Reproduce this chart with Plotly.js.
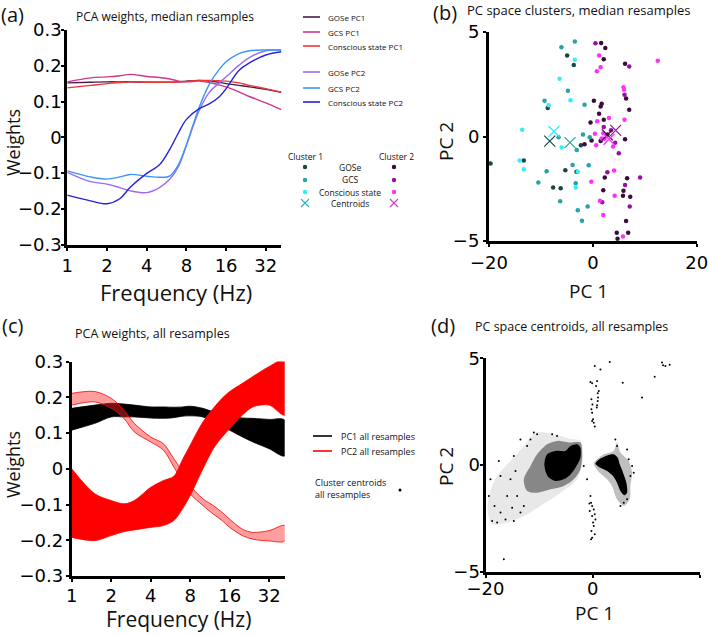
<!DOCTYPE html>
<html><head><meta charset="utf-8">
<script src="https://cdn.plot.ly/plotly-3.0.1.min.js"></script>
<style>html,body{margin:0;padding:0;background:#fff}#plot{width:709px;height:635px}</style>
</head><body><div id="plot"></div>
<script>
// ---------- Panel (a): PCA weights, median resamples ----------
const freqA = [1,1.5,2,2.5,3,4,5,6,7,8,10,12,14,16,20,24,32,42];
const goseP1 = [0.152,0.154,0.155,0.155,0.155,0.154,0.154,0.154,0.155,0.157,0.159,0.157,0.154,0.150,0.145,0.141,0.134,0.126];
const gcsP1  = [0.155,0.166,0.169,0.172,0.176,0.170,0.167,0.163,0.157,0.155,0.157,0.153,0.147,0.141,0.127,0.114,0.096,0.077];
const csP1   = [0.138,0.145,0.150,0.153,0.155,0.154,0.154,0.154,0.155,0.156,0.159,0.159,0.158,0.157,0.152,0.145,0.136,0.126];
const goseP2 = [-0.098,-0.124,-0.131,-0.141,-0.150,-0.155,-0.141,-0.117,-0.080,-0.023,0.075,0.127,0.150,0.169,0.201,0.223,0.242,0.244];
const gcsP2  = [-0.094,-0.111,-0.117,-0.111,-0.104,-0.109,-0.112,-0.108,-0.075,-0.021,0.084,0.150,0.187,0.211,0.234,0.242,0.244,0.244];
const csP2   = [-0.162,-0.178,-0.186,-0.172,-0.140,-0.101,-0.077,-0.033,0.014,0.050,0.080,0.094,0.111,0.136,0.187,0.208,0.230,0.239];
const legendA = ['GOSe PC1','GCS PC1','Conscious state PC1','GOSe PC2','GCS PC2','Conscious state PC2'];
const colorsA = ['#4a1b4a','#d0368e','#f03535','#9a6cf5','#3a96f5','#2424d8'];

// ---------- Panel (c): PCA weights, all resamples (band envelopes) ----------
const freqC = [1,1.5,2,2.5,3,4,5,6,7,8,10,12,14,16,20,24,32,42];
const pc1Upper = [0.169,0.178,0.183,0.181,0.178,0.173,0.173,0.172,0.173,0.175,0.169,0.159,0.154,0.148,0.142,0.141,0.138,0.136];
const pc1Lower = [0.108,0.127,0.145,0.145,0.145,0.142,0.141,0.143,0.147,0.148,0.145,0.131,0.120,0.108,0.089,0.075,0.056,0.036];
const pc2Upper = [0.000,-0.070,-0.089,-0.098,-0.089,-0.052,-0.033,-0.021,0.026,0.066,0.131,0.169,0.197,0.216,0.239,0.258,0.286,0.305];
const pc2Lower = [-0.192,-0.201,-0.187,-0.176,-0.171,-0.164,-0.159,-0.145,-0.112,-0.075,0.000,0.056,0.089,0.112,0.150,0.173,0.178,0.150];
const pc2AltUpper = [0.211,0.216,0.197,0.164,0.127,0.089,0.070,0.028,-0.009,-0.047,-0.084,-0.103,-0.122,-0.141,-0.169,-0.178,-0.173,-0.159];
const pc2AltLower = [0.178,0.187,0.169,0.141,0.103,0.075,0.052,0.005,-0.037,-0.070,-0.103,-0.127,-0.145,-0.164,-0.187,-0.197,-0.202,-0.202];

const freqTicks = [1,2,4,8,16,32];
const freqTickText = ['1','2','4','8','16','32'];
const weightTicks = [-0.3,-0.2,-0.1,0,0.1,0.2,0.3];
const weightTickText = ['\u22120.3','\u22120.2','\u22120.1','0','0.1','0.2','0.3'];
const pcXTicks = [-20,0,20];
const pcXTickText = ['\u221220','0','20'];
const pcYTicks = [-5,0,5];
const pcYTickText = ['\u22125','0','5'];

// ---------- Panel (b): PC space clusters, median resamples ----------
const c1GoseX = [-4.95,-3.67,-8.7,-13.3,-5.3,-3.15,-7.65,-6.2,-2.3,-19.7];
const c1GoseY = [3.88,3.42,1.36,-1.15,-1.61,-1.69,-2.44,-2.48,-0.42,-1.29];
const c1GcsX = [-3.47,-6.05,-9.3,-4.8,-1.6,-6.6,-1.9,-0.6,-3.1,-3.9,-0.8,-8.9,-10.5,-3.3,-6.3,-2.9,-1.0,-2.1];
const c1GcsY = [4.55,4.27,1.71,2.19,1.52,-0.03,0.1,-0.03,-0.64,-1.36,-1.37,-1.66,-2.2,-2.24,-3.1,-3.53,-3.35,-4.03];
const c1CsX = [-3.47,-6.4,-4.3,-8.5,-13.6,-6.0,-14.1,-13.3,-2.9,-3.3];
const c1CsY = [3.67,2.76,1.73,1.49,0.32,-0.53,-1.15,-1.57,-1.69,-2.44];
const c2GoseX = [0.2,-0.45,1.5,1.7,1.2,2.1,2.4,2.1,6.2,6.4,7.0,2.8,1.5,6.2,-0.25,-1.6,2.0,2.3,5.9,5.8,6.6,7.2,6.4,6.8,4.6,4.75,1.6];
const c2GoseY = [1.71,0.67,1.44,1.57,1.09,0.8,4.23,3.7,3.48,1.82,1.28,0.1,-0.21,-0.13,-0.19,-0.37,-2.57,-1.96,-2.59,-2.84,-2.0,-2.88,-4.04,-4.6,-4.6,-4.89,4.47];
const c2GcsX = [0.5,7.0,2.1,3.5,5.0,6.2,9.1,7.1,1.8,2.8,6.1,4.3];
const c2GcsY = [4.46,3.35,0.46,0.3,-0.8,-2.32,-1.96,-3.35,-3.15,-1.71,2.0,-0.3];
const c2CsX = [12.5,0.77,1.5,1.2,5.9,6.0,6.1,0.84,0.4,2.0,2.25,3.1,0.64,1.7,3.9,-0.3,4.1,4.2,1.35,2.0,5.8];
const c2CsY = [3.63,3.12,3.31,3.87,2.36,2.24,0.8,0.73,0.13,0.16,-0.11,0.88,-0.42,-0.1,-0.48,-2.16,-1.63,-2.83,-3.08,-3.75,-4.79];
const cent1X = [-8.3,-4.4,-7.5];   // GOSe, GCS, Conscious state
const cent1Y = [-0.22,-0.29,0.24];
const cent2X = [2.8,4.4,3.1];
const cent2Y = [0.08,0.29,-0.13];
const colC1 = ['#164848','#27a3a3','#35ecfa'];
const colC2 = ['#3c0c3c','#960fa6','#ff30ff'];

// ---------- Panel (d): PC space centroids, all resamples ----------
const blob1HaloX = [-19.38,-17.83,-15.34,-12.86,-10.68,-7.58,-4.16,-2.30,-1.80,-2.92,-6.02,-9.75,-12.86,-15.96,-18.76,-19.57,-19.38];
const blob1HaloY = [-1.45,-0.52,0.19,0.89,1.52,1.47,1.23,1.13,0.42,-0.67,-1.30,-1.92,-2.39,-2.70,-2.78,-2.23,-1.45];
const blob1MidX = [-12.86,-11.61,-10.37,-8.51,-6.65,-4.47,-2.30,-1.99,-2.30,-3.54,-5.40,-7.89,-10.37,-12.24,-12.86];
const blob1MidY = [-0.67,-0.05,0.5,0.97,1.13,1.05,1.05,0.5,-0.2,-0.67,-0.98,-1.14,-1.30,-1.22,-0.67];
const blob1CoreX = [-8.51,-6.96,-5.09,-4.16,-2.92,-2.30,-2.30,-3.23,-4.16,-5.40,-6.96,-8.20,-8.82,-9.01,-8.51];
const blob1CoreY = [0.5,0.66,0.66,0.89,0.97,0.81,0.34,-0.13,-0.44,-0.67,-0.75,-0.59,-0.28,0.11,0.5];
const blob2HaloX = [0.19,2.05,3.91,4.53,5.16,6.71,7.33,7.02,6.89,5.78,4.53,3.60,2.67,0.81,0.19];
const blob2HaloY = [0.08,0.5,0.66,1.05,0.58,0.19,-0.36,-0.98,-1.61,-1.92,-1.61,-0.98,-0.67,-0.23,0.08];
const blob2CoreX = [0.50,1.43,2.67,3.91,4.66,5.03,5.65,6.27,6.40,5.90,5.16,4.53,3.79,2.67,1.43,0.50];
const blob2CoreY = [0.06,0.30,0.45,0.50,0.34,0.03,-0.36,-0.83,-1.30,-1.42,-1.22,-0.83,-0.52,-0.28,-0.13,0.06];
const sparseX = [0.37,3.17,1.43,-0.43,-0.12,0.81,0.62,1.12,0.93,-0.25,0.93,-0.06,0.81,-0.25,0.75,-0.12,0.06,0.19,0.37,-0.12,0.99,
  12.92,13.54,14.35,13.11,11.55,9.19,5.59,
  -0.43,-0.31,-0.12,0.19,-0.56,0.37,-0.12,0.50,0.06,0.19,-0.25,-0.12,-0.31,0.37,-0.62,
  -17.52,-19.07,-18.32,-19.38,-17.20,-16.58,-18.76,-16.27,-14.72,-13.48,-12.24,-10.99,-14.72,-15.34,-15.96,-14.10,-12.86,-13.48,-11.61,-10.37,-7.58,-6.65,-17.20,-14.41,-15.03,-17.83,
  4.22,4.53,6.40,6.71,7.33,7.64,7.02,5.16,5.78,6.40,-1.06,-1.68];
const sparseY = [4.64,4.83,4.48,3.89,3.83,3.94,3.70,3.47,3.36,3.08,3.00,2.84,2.80,2.61,2.69,2.45,2.14,1.98,1.80,2.06,3.16,
  4.80,4.64,4.70,4.67,4.13,3.16,3.86,
  -1.45,-1.77,-1.92,-2.08,-2.16,-2.31,-2.39,-2.55,-2.70,-2.86,-3.09,-3.41,-3.48,-3.25,-1.80,
  0.19,-0.67,-1.92,-1.45,-2.23,-4.42,-2.63,-2.55,-2.63,-2.23,0.89,1.52,0.42,-0.67,-1.45,-1.45,-1.92,1.20,1.20,1.44,1.44,1.36,-0.52,-0.28,-2.00,-2.70,
  1.20,0.89,0.73,0.27,-0.05,-0.36,-0.52,-1.92,-1.77,-1.61,-0.67,-0.05];

// ---------- build ----------
const W = 709, H = 635;
const P = x => x / W, Q = y => 1 - y / H;
const traces = [];
const rev = a => a.slice().reverse();

[goseP1,gcsP1,csP1,goseP2,gcsP2,csP2].forEach((ys,i)=>{
  traces.push({type:'scatter',mode:'lines',x:freqA,y:ys,xaxis:'x',yaxis:'y',
    line:{color:colorsA[i],width:1.4,shape:'spline',smoothing:1},name:legendA[i],hoverinfo:'skip'});
});

function band(xs,up,lo,col,fill,w,ax,ay){
  return {type:'scatter',mode:'lines',x:xs.concat(rev(xs)),y:up.concat(rev(lo)),xaxis:ax,yaxis:ay,
    fill:'toself',fillcolor:fill,line:{color:col,width:w,shape:'spline',smoothing:0.9},hoverinfo:'skip'};
}
traces.push(band(freqC,pc1Upper,pc1Lower,'#000','#000',0.8,'x3','y3'));
traces.push(band(freqC,pc2AltUpper,pc2AltLower,'#ff0000','rgba(255,40,40,0.45)',0.8,'x3','y3'));
traces.push(band(freqC,pc2Upper,pc2Lower,'#ff0000','#ff0000',0.8,'x3','y3'));

const c1X=[c1GoseX,c1GcsX,c1CsX], c1Y=[c1GoseY,c1GcsY,c1CsY];
const c2X=[c2GoseX,c2GcsX,c2CsX], c2Y=[c2GoseY,c2GcsY,c2CsY];
for(let i=0;i<3;i++){
  traces.push({type:'scatter',mode:'markers',x:c1X[i],y:c1Y[i],xaxis:'x2',yaxis:'y2',marker:{color:colC1[i],size:4.5},hoverinfo:'skip'});
  traces.push({type:'scatter',mode:'markers',x:c2X[i],y:c2Y[i],xaxis:'x2',yaxis:'y2',marker:{color:colC2[i],size:4.5},hoverinfo:'skip'});
}
for(let i=0;i<3;i++){
  traces.push({type:'scatter',mode:'markers',x:[cent1X[i]],y:[cent1Y[i]],xaxis:'x2',yaxis:'y2',
    marker:{symbol:'x-thin-open',size:11,color:colC1[i],line:{color:colC1[i],width:1.2}},hoverinfo:'skip'});
  traces.push({type:'scatter',mode:'markers',x:[cent2X[i]],y:[cent2Y[i]],xaxis:'x2',yaxis:'y2',
    marker:{symbol:'x-thin-open',size:11,color:colC2[i],line:{color:colC2[i],width:1.2}},hoverinfo:'skip'});
}

function blob(xs,ys,fill){
  return {type:'scatter',mode:'lines',x:xs,y:ys,xaxis:'x4',yaxis:'y4',fill:'toself',fillcolor:fill,
    line:{width:0,shape:'spline',smoothing:0.8},hoverinfo:'skip'};
}
traces.push(blob(blob1HaloX,blob1HaloY,'rgba(0,0,0,0.09)'));
traces.push(blob(blob1MidX,blob1MidY,'rgba(0,0,0,0.42)'));
traces.push(blob(blob1CoreX,blob1CoreY,'#000'));
traces.push(blob(blob2HaloX,blob2HaloY,'rgba(0,0,0,0.25)'));
traces.push(blob(blob2CoreX,blob2CoreY,'#000'));
traces.push({type:'scatter',mode:'markers',x:sparseX,y:sparseY,xaxis:'x4',yaxis:'y4',marker:{color:'#000',size:2},hoverinfo:'skip'});

const tickFont = {family:'DejaVu Sans, sans-serif',size:18,color:'#000'};
function ax(extra){
  return Object.assign({showline:true,linewidth:3,linecolor:'#000',ticks:'outside',ticklen:3,tickwidth:2,tickcolor:'#000',
    showgrid:false,zeroline:false,tickfont:tickFont,fixedrange:true},extra);
}
const L42 = Math.log10(42);
const layout = {
  width:W,height:H,margin:{l:0,r:0,t:0,b:0},paper_bgcolor:'#fff',plot_bgcolor:'rgba(0,0,0,0)',showlegend:false,
  xaxis: ax({type:'log',range:[0,L42],tickvals:freqTicks,ticktext:freqTickText,domain:[P(67.3),P(281.4)],anchor:'y'}),
  yaxis: ax({range:[-0.3,0.3],tickvals:weightTicks,ticktext:weightTickText,domain:[Q(244.5),Q(30)],anchor:'x',ticklabelstandoff:-4}),
  xaxis2: ax({range:[-20,20],tickvals:pcXTicks,ticktext:pcXTickText,domain:[P(489),P(696.7)],anchor:'y2'}),
  yaxis2: ax({range:[-5,5],tickvals:pcYTicks,ticktext:pcYTickText,domain:[Q(241),Q(32)],anchor:'x2'}),
  xaxis3: ax({type:'log',range:[0,L42],tickvals:freqTicks,ticktext:freqTickText,domain:[P(71.7),P(284.7)],anchor:'y3',ticklabelstandoff:-2}),
  yaxis3: ax({range:[-0.3,0.3],tickvals:weightTicks,ticktext:weightTickText,domain:[Q(576),Q(361.5)],anchor:'x3',ticklabelstandoff:-1}),
  xaxis4: ax({range:[-20,20],tickvals:pcXTicks,ticktext:pcXTickText,domain:[P(485.5),P(700)],anchor:'y4',ticklabelstandoff:-4}),
  yaxis4: ax({range:[-5,5],tickvals:pcYTicks,ticktext:pcYTickText,domain:[Q(571.7),Q(358.3)],anchor:'x4',ticklabelstandoff:-4}),
  annotations:[],shapes:[]
};
const F = 'Open Sans, sans-serif';
function txt(x,y,t,size,opts){
  layout.annotations.push(Object.assign({xref:'paper',yref:'paper',x:P(x),y:Q(y),text:t,showarrow:false,
    font:{family:F,size:size,color:'#111'},xanchor:'center',yanchor:'middle'},opts||{}));
}
txt(12.5,14,'(a)',20); txt(445,13,'(b)',20); txt(12.5,325,'(c)',20); txt(443,325,'(d)',20);
txt(74,16,'PCA weights, median resamples',12,{xanchor:'left'});
txt(465,10,'PC space clusters, median resamples',13,{xanchor:'left'});
txt(73,333,'PCA weights, all resamples',12.5,{xanchor:'left'});
txt(473,327,'PC space centroids, all resamples',12.5,{xanchor:'left'});
txt(13,143,'Weights',18,{textangle:-90}); txt(176,292,'Frequency (Hz)',22);
txt(446,142,'PC 2',19,{textangle:-90}); txt(588,291,'PC 1',19);
txt(13,465,'Weights',18,{textangle:-90}); txt(178,619,'Frequency (Hz)',21);
txt(446,467,'PC 2',19,{textangle:-90}); txt(594,613,'PC 1',19);

const rowsA = [17,32,46,72,88,102];
rowsA.forEach((y,i)=>{
  layout.shapes.push({type:'line',xref:'paper',yref:'paper',x0:P(303),x1:P(320),y0:Q(y),y1:Q(y),line:{color:colorsA[i],width:1.6}});
  txt(326,y,legendA[i],8,{xanchor:'left'});
});
txt(305,156,'Cluster 1',8.5); txt(396,156,'Cluster 2',8.5);
const rowsB = [167,180,192,203];
const labB = ['GOSe','GCS','Conscious state','Centroids'];
rowsB.forEach((y,i)=>{
  txt(350,y,labB[i],8.5);
  if(i<3){
    [[305,colC1[i]],[394,colC2[i]]].forEach(([x,c])=>{
      layout.shapes.push({type:'circle',xref:'paper',yref:'paper',x0:P(x-2.2),x1:P(x+2.2),y0:Q(y-2.2),y1:Q(y+2.2),fillcolor:c,line:{width:0}});
    });
  } else {
    [[305,'#2fb4b4'],[394,'#c840c8']].forEach(([x,c])=>{
      layout.shapes.push({type:'line',xref:'paper',yref:'paper',x0:P(x-4),x1:P(x+4),y0:Q(y-4),y1:Q(y+4),line:{color:c,width:1.1}});
      layout.shapes.push({type:'line',xref:'paper',yref:'paper',x0:P(x-4),x1:P(x+4),y0:Q(y+4),y1:Q(y-4),line:{color:c,width:1.1}});
    });
  }
});
[[436,'#000','PC1 all resamples'],[451,'#ff0000','PC2 all resamples']].forEach(([y,c,t])=>{
  layout.shapes.push({type:'line',xref:'paper',yref:'paper',x0:P(313),x1:P(332),y0:Q(y),y1:Q(y),line:{color:c,width:1.6}});
  txt(339,y,t,9,{xanchor:'left'});
});
txt(313,482,'Cluster centroids',9,{xanchor:'left'});
txt(313,494,'all resamples',9,{xanchor:'left'});
layout.shapes.push({type:'circle',xref:'paper',yref:'paper',x0:P(398.5),x1:P(401.5),y0:Q(488.5),y1:Q(491.5),fillcolor:'#000',line:{width:0}});

Plotly.newPlot('plot',traces,layout,{staticPlot:true});
</script></body></html>
